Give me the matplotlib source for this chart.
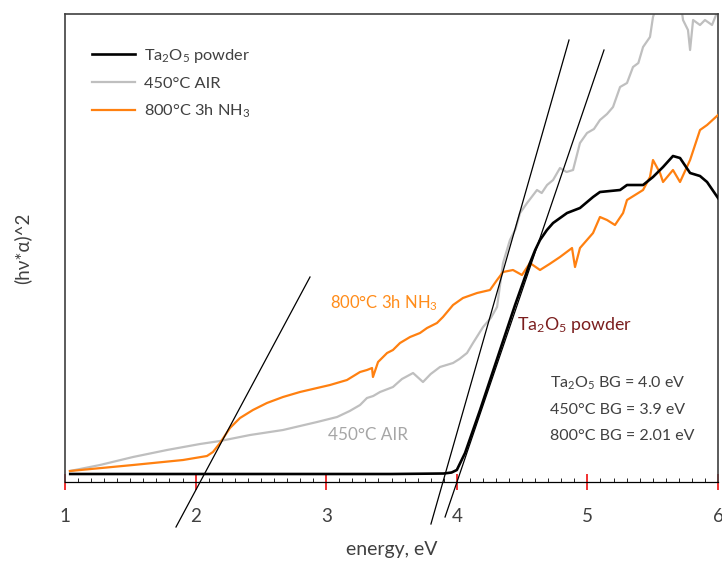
import matplotlib
matplotlib.use("Agg")
import matplotlib.pyplot as plt

plt.rcParams['font.family'] = ['Lato', 'DejaVu Sans']
plt.rcParams['mathtext.fontset'] = 'custom'
plt.rcParams['mathtext.rm'] = 'Lato'
plt.rcParams['mathtext.it'] = 'Lato:italic'
plt.rcParams['mathtext.default'] = 'rm'

txt = '#404040'
orange = '#FF8010'
grey = '#BFBFBF'

# Ta2O5 powder
ta_x = [1.04, 3.5, 3.90, 3.96, 4.00, 4.063, 4.178, 4.331, 4.446, 4.560, 4.60, 4.637, 4.69,
        4.737, 4.844, 4.943, 5.043, 5.096, 5.250, 5.303, 5.426, 5.502, 5.579, 5.655,
        5.709, 5.786, 5.862, 5.916, 6.0]
ta_y = [0.10, 0.10, 0.105, 0.115, 0.14, 0.31, 0.74, 1.34, 1.79, 2.21, 2.34, 2.44, 2.54,
        2.61, 2.71, 2.76, 2.87, 2.92, 2.94, 2.99, 2.99, 3.07, 3.17, 3.28,
        3.26, 3.11, 3.08, 3.02, 2.86]

# 450C air
air_x = [1.038, 1.268, 1.521, 1.781, 2.034, 2.187, 2.417, 2.669, 2.930, 3.083, 3.18, 3.259,
         3.312, 3.36, 3.412, 3.511, 3.58, 3.665, 3.741, 3.80, 3.871, 3.971, 4.02, 4.078,
         4.124, 4.201, 4.26, 4.308, 4.354, 4.407, 4.45, 4.484, 4.538, 4.614, 4.65, 4.691,
         4.737, 4.790, 4.84, 4.890, 4.943, 4.997, 5.05, 5.096, 5.15, 5.196, 5.250, 5.303,
         5.349, 5.39, 5.426, 5.479, 5.502, 5.533, 5.63, 5.717, 5.732, 5.770, 5.786,
         5.809, 5.862, 5.900, 5.954, 6.0]
air_y = [0.13, 0.19, 0.27, 0.34, 0.40, 0.43, 0.49, 0.54, 0.62, 0.67, 0.73, 0.79,
         0.86, 0.88, 0.92, 0.97, 1.05, 1.11, 1.02, 1.10, 1.17, 1.21, 1.25, 1.31,
         1.41, 1.57, 1.66, 1.77, 2.21, 2.44, 2.55, 2.71, 2.81, 2.94, 2.91, 2.99,
         3.04, 3.16, 3.12, 3.14, 3.41, 3.51, 3.55, 3.64, 3.70, 3.77, 3.97, 4.01,
         4.17, 4.21, 4.37, 4.47, 4.67, 4.79, 4.89, 4.79,
         4.64, 4.54, 4.34, 4.64, 4.59, 4.64, 4.59, 4.74]

# 800C 3h NH3
nh3_x = [1.038, 1.521, 1.904, 2.087, 2.133, 2.187, 2.263, 2.340, 2.439, 2.546, 2.669, 2.799,
         2.930, 3.029, 3.159, 3.259, 3.312, 3.351, 3.358, 3.397, 3.466, 3.511, 3.565,
         3.642, 3.718, 3.772, 3.848, 3.894, 3.971, 4.047, 4.155, 4.254, 4.308, 4.354,
         4.430, 4.499, 4.560, 4.637, 4.71, 4.790, 4.882, 4.905, 4.943, 5.043, 5.096,
         5.150, 5.211, 5.273, 5.303, 5.426, 5.479, 5.502, 5.556, 5.579, 5.655, 5.709,
         5.786, 5.862, 5.916, 6.0]
nh3_y = [0.13, 0.19, 0.24, 0.28, 0.32, 0.41, 0.56, 0.66, 0.74, 0.81, 0.87, 0.92,
         0.96, 0.99, 1.04, 1.12, 1.14, 1.16, 1.07, 1.22, 1.31, 1.34, 1.41,
         1.47, 1.51, 1.56, 1.61, 1.67, 1.79, 1.86, 1.91, 1.94, 2.04, 2.12,
         2.14, 2.09, 2.21, 2.14, 2.20, 2.27, 2.36, 2.17, 2.36, 2.51, 2.67,
         2.64, 2.59, 2.71, 2.84, 2.94, 3.07, 3.24, 3.11, 3.02, 3.14, 3.02,
         3.24, 3.54, 3.59, 3.69]

# tangent (band gap) lines
fit_800_x, fit_800_y = [1.85, 2.876], [-0.43, 2.07]
fit_450_x, fit_450_y = [3.802, 4.859], [-0.40, 4.44]
fit_ta_x, fit_ta_y = [3.91, 5.127], [-0.33, 4.34]

fig = plt.figure(figsize=(7.22, 5.65), dpi=100)
ax = fig.add_axes([0.090, 0.1469, 0.9045, 0.8283])

ax.plot(air_x, air_y, color=grey, lw=1.6, label='450°C AIR', zorder=2)
ax.plot(nh3_x, nh3_y, color=orange, lw=1.6, label='800°C 3h NH$_3$', zorder=3)
ax.plot(ta_x, ta_y, color='black', lw=1.9, label='Ta$_2$O$_5$ powder', zorder=4)

for fx, fy in [(fit_800_x, fit_800_y), (fit_450_x, fit_450_y), (fit_ta_x, fit_ta_y)]:
    ax.plot(fx, fy, color='black', lw=0.9, clip_on=False, zorder=5)

ax.set_xlim(1, 6)
ax.set_ylim(0.02, 4.70)
ax.set_xticks([1, 2, 3, 4, 5, 6])
ax.set_xticks([1 + 0.1 * i for i in range(51)], minor=True)
ax.set_yticks([])
ax.tick_params(axis='x', which='major', direction='inout', length=11, width=1.3,
               color='#F02020', labelsize=13.5, labelcolor=txt, pad=13)
ax.tick_params(axis='x', which='minor', direction='in', length=3, width=0.6, color='black')

for s in ['left', 'top', 'right']:
    ax.spines[s].set_color('#404040')
    ax.spines[s].set_linewidth(1.2)
ax.spines['bottom'].set_color('black')
ax.spines['bottom'].set_linewidth(0.9)

ax.set_xlabel('energy, eV', fontsize=14, color=txt, labelpad=12)
ax.set_ylabel('(hν*α)^2', fontsize=13.5, color=txt, labelpad=24)

h, l = ax.get_legend_handles_labels()
order = [2, 0, 1]
ax.legend([h[i] for i in order], [l[i] for i in order], loc='upper left',
          bbox_to_anchor=(0.0413, 0.93), frameon=False, fontsize=11.8,
          borderpad=0, borderaxespad=0,
          handlelength=2.6, handletextpad=0.6, labelspacing=0.72, labelcolor=txt)

ax.text(3.03, 1.81, '800°C 3h NH$_3$', color='#FF8C1A', fontsize=12, va='center')
ax.text(3.015, 0.49, '450°C AIR', color='#A6A6A6', fontsize=12.3, va='center')
ax.text(4.46, 1.59, 'Ta$_2$O$_5$ powder', color='#7B1E1E', fontsize=12.8, va='center')
ax.text(4.71, 1.01, 'Ta$_2$O$_5$ BG = 4.0 eV', color=txt, fontsize=11.5, va='center')
ax.text(4.71, 0.74, '450°C BG = 3.9 eV', color=txt, fontsize=11.5, va='center')
ax.text(4.71, 0.48, '800°C BG = 2.01 eV', color=txt, fontsize=11.5, va='center')

fig.savefig('out.png', dpi=100)
